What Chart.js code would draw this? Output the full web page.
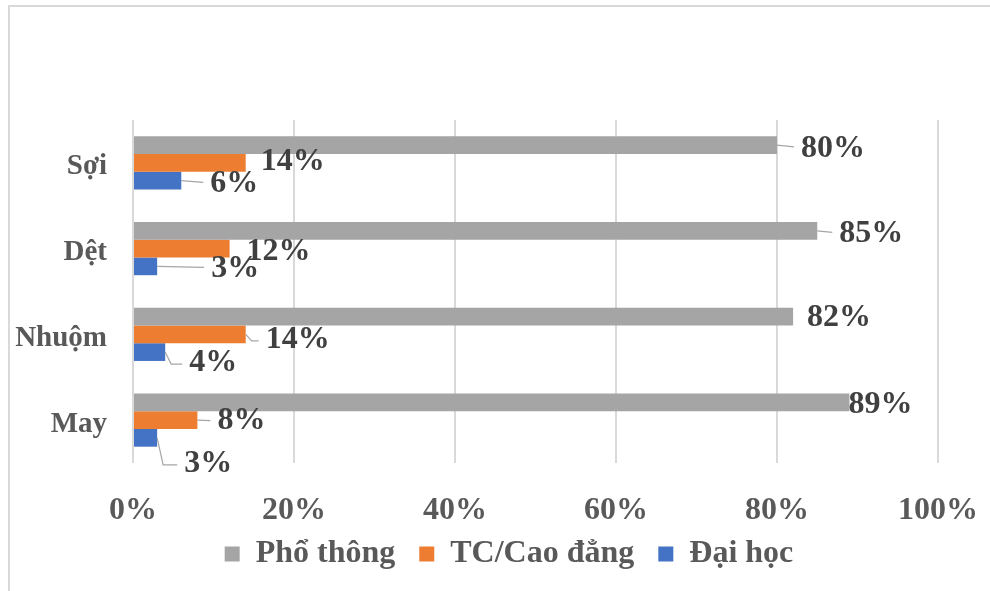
<!DOCTYPE html>
<html>
<head>
<meta charset="utf-8">
<script src="https://cdn.jsdelivr.net/npm/chart.js@4"></script>
<style>
  html, body { margin: 0; padding: 0; background: #ffffff; }
  #wrap { position: relative; width: 990px; height: 591px; overflow: hidden; }
  #wrap canvas { position: absolute; left: 0; top: 0; }
  #frame { position: absolute; left: 8px; top: 5px; width: 1000px; height: 600px;
           border-top: 2px solid #d9d9d9; border-left: 2px solid #d9d9d9; pointer-events: none; }
</style>
</head>
<body>
<div id="wrap">
  <canvas id="chart" width="990" height="591"></canvas>
  <div id="frame"></div>
</div>
<script>
// Workforce education level by production stage (%)
const categories = ['Sợi', 'Dệt', 'Nhuộm', 'May'];
const seriesNames = ['Phổ thông', 'TC/Cao đẳng', 'Đại học'];
const phoThong = [80, 85, 82, 89];
const tcCaoDang = [14, 12, 14, 8];
const daiHoc = [6, 3, 4, 3];
const xTickValues = [0, 20, 40, 60, 80, 100];

const seriesColors = ['#a5a5a5', '#ed7d31', '#4472c4'];
const FONT = '"Liberation Serif", "Times New Roman", serif';
const FONT_SIZE = 32;

// Where each value label sits relative to its bar end: [dx, dy, draw leader line]
const labelPlacement = [
  [[24, 3.5, true], [22, 3, true], [14, 1.5, false], [-1, 2, false]],
  [[15, -1, false], [17, 3, false], [20, 5.5, true], [20, 1, true]],
  [[29, 3.5, true], [54, 2, true], [24, 11, true], [27, 26, true]]
];

const valueLabels = {
  id: 'valueLabels',
  afterDatasetsDraw(chart) {
    const ctx = chart.ctx;
    ctx.save();
    ctx.font = 'bold ' + FONT_SIZE + 'px ' + FONT;
    ctx.textAlign = 'left';
    ctx.textBaseline = 'middle';
    chart.data.datasets.forEach((ds, i) => {
      const meta = chart.getDatasetMeta(i);
      meta.data.forEach((bar, j) => {
        const [dx, dy, leader] = labelPlacement[i][j];
        const x0 = bar.x, y0 = bar.y;
        const lx = x0 + dx, ly = y0 + dy;
        if (leader) {
          const ex = lx - 7;
          const ey = Math.abs(dy) > 4 ? ly + 1 : y0 + dy * 0.5;
          ctx.beginPath();
          ctx.strokeStyle = '#a6a6a6';
          ctx.lineWidth = 1.2;
          ctx.moveTo(x0, y0);
          if (Math.abs(ey - y0) > 4) ctx.lineTo(x0 + 6, ey);
          ctx.lineTo(ex, ey);
          ctx.stroke();
        }
        ctx.fillStyle = '#404040';
        ctx.fillText(ds.data[j] + '%', lx, ly);
      });
    });
    ctx.restore();
  }
};

// The legend row is centred on the whole framed card, below the axis labels
const legendPlacement = {
  id: 'legendPlacement',
  afterLayout(chart) {
    const lg = chart.legend;
    lg.left = 80; lg.right = 938; lg.width = lg.right - lg.left;
    lg.top = 514; lg.bottom = 591; lg.height = lg.bottom - lg.top;
  }
};

const seriesValues = [phoThong, tcCaoDang, daiHoc];
const axisFont = { family: FONT, size: FONT_SIZE, weight: 'bold' };

new Chart(document.getElementById('chart'), {
  type: 'bar',
  data: {
    labels: categories,
    datasets: seriesNames.map((name, i) => ({
      label: name,
      data: seriesValues[i],
      backgroundColor: seriesColors[i],
      borderWidth: 0,
      categoryPercentage: 0.62,
      barPercentage: 1.0
    }))
  },
  options: {
    responsive: false,
    animation: false,
    devicePixelRatio: 1,
    indexAxis: 'y',
    layout: { padding: { top: 120, right: 52, left: 0, bottom: 0 } },
    plugins: {
      tooltip: { enabled: false },
      legend: {
        position: 'bottom',
        maxHeight: 40,
        labels: {
          font: axisFont,
          color: '#595959',
          boxWidth: 15,
          boxHeight: 15,
          padding: 24
        }
      }
    },
    scales: {
      x: {
        min: 0,
        max: 100,
        afterBuildTicks(scale) { scale.ticks = xTickValues.map(v => ({ value: v })); },
        ticks: {
          callback: v => v + '%',
          font: axisFont,
          color: '#595959',
          padding: 29,
          maxRotation: 0
        },
        grid: { color: '#d9d9d9', lineWidth: 2, drawTicks: false },
        border: { display: false },
        afterFit(scale) {
          scale.height = 88;
          scale.paddingLeft = 0;
          scale.paddingRight = 0;
        }
      },
      y: {
        ticks: {
          font: { family: FONT, size: 29, weight: 'bold' },
          color: '#595959',
          padding: 26,
          labelOffset: 4
        },
        grid: { display: false, drawTicks: false },
        border: { display: false },
        afterFit(scale) { scale.width = 133; }
      }
    }
  },
  plugins: [valueLabels, legendPlacement]
});
</script>
</body>
</html>
